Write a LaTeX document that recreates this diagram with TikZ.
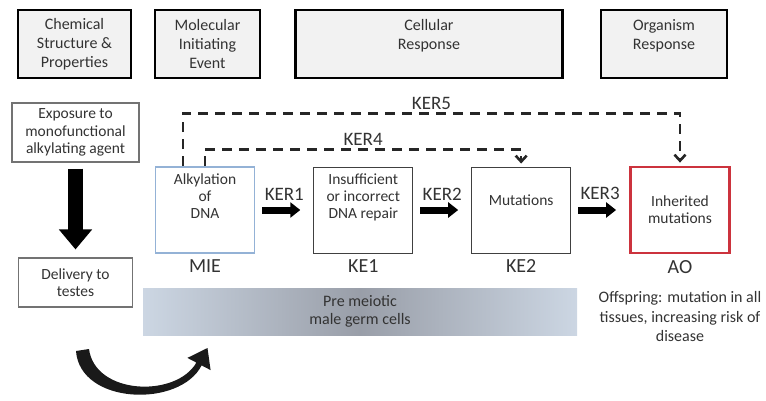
\documentclass[tikz,border=0pt]{standalone}
\usepackage{fontspec}
\setmainfont{Carlito}
\usepackage{tikz}
\usetikzlibrary{arrows.meta,calc,positioning}
\definecolor{headgray}{rgb}{0.95, 0.95, 0.95}
\definecolor{textgray}{rgb}{0.2, 0.2, 0.2}
\definecolor{mieblue}{rgb}{0.58, 0.70, 0.84}
\definecolor{aored}{rgb}{0.80, 0.20, 0.24}
\definecolor{bandlight}{rgb}{0.80, 0.84, 0.89}
\definecolor{banddark}{rgb}{0.60, 0.62, 0.66}
\tikzset{
  header/.style={
    draw=black,
    line width=2.4pt,
    fill=headgray,
    align=center,
    minimum height=68pt,
    inner sep=2pt,
    text=textgray,
    font=\fontsize{16}{19}\selectfont
  },
  prebox/.style={
    draw=black!55,
    line width=1.1pt,
    fill=white,
    align=center,
    inner sep=2pt,
    text=textgray,
    font=\fontsize{15.5}{17.5}\selectfont
  },
  event/.style={
    draw=black!75,
    line width=0.9pt,
    fill=white,
    align=center,
    minimum width=99pt,
    minimum height=86pt,
    inner sep=2pt,
    text=textgray,
    font=\fontsize{15.5}{17}\selectfont
  },
  tag/.style={
    text=textgray,
    inner sep=2pt,
    outer sep=0pt,
    font=\fontsize{20}{24}\selectfont
  },
  ker/.style={
    text=textgray,
    inner sep=2pt,
    outer sep=0pt,
    font=\fontsize{19}{22}\selectfont
  },
  kerarrow/.style={
    -{Triangle[length=10pt,width=15pt]},
    line width=7pt,
    shorten <=7pt,
    shorten >=13pt
  },
  dasharrow/.style={
    -{Straight Barb[length=6pt,width=11pt]},
    line width=2.6pt,
    dash pattern=on 10pt off 7pt,
    black!85,
    shorten >=3pt
  },
  bigarrow/.style={
    -{Triangle[length=20pt,width=32pt]},
    line width=15pt,
    shorten <=6pt,
    shorten >=8pt
  }
}
\begin{document}
\begin{tikzpicture}[x=1pt,y=-1pt,node distance=58pt]
\useasboundingbox (0,0) rectangle (766,400);
% header row
\node[header, minimum width=113pt] (h1) at (74.5,44) {Chemical\\Structure \&\\Properties};
\node[header, minimum width=105pt] (h2) at (207.5,44) {Molecular\\Initiating\\Event};
\node[header, minimum width=267pt] (h3) at (429,44) {Cellular\\Response\\\mbox{}};
\node[header, minimum width=126pt] (h4) at (664,44) {Organism\\Response\\\mbox{}};
% exposure column
\node[prebox, minimum width=127pt, minimum height=59pt] (expo) at (75.5,132.5) {Exposure to\\monofunctional\\alkylating agent};
\node[prebox, minimum width=114pt, minimum height=49pt] (deliv) at (75.5,282.5) {Delivery to\\testes};
\draw[bigarrow] (expo) -- (deliv);
% key events
\node[event, draw=mieblue, line width=1.6pt] (mie) at (205,210) {Alkylation\\of\\DNA\\[11pt]\mbox{}};
\node[event, right=of mie] (ke1) {Insufficient\\or incorrect\\DNA repair\\[11pt]\mbox{}};
\node[event, right=of ke1] (ke2) {Mutations\\[3pt]\mbox{}};
\node[event, right=of ke2, draw=aored, line width=2.8pt] (ao) {Inherited\\mutations};
\node[tag, below=4pt of mie] (miel) {MIE};
\node[tag, below=4pt of ke1] (ke1l) {KE1};
\node[tag, below=4pt of ke2] (ke2l) {KE2};
\node[tag, below=4pt of ao] (aol) {AO};
\draw[kerarrow] (mie) -- node[ker, above=8pt] (k1) {KER1} (ke1);
\draw[kerarrow] (ke1) -- node[ker, above=8pt] (k2) {KER2} (ke2);
\draw[kerarrow] (ke2) -- node[ker, above=8pt] (k3) {KER3} (ao);
% indirect relationships
\draw[dasharrow] ([xshift=-22pt]mie.north) -- ++(0,-53) -| node[ker, pos=0.25, above=2pt] (k5) {KER5} (ao.north);
\draw[dasharrow] (mie.north) -- ++(0,-17) -| node[ker, pos=0.25, above=2pt] (k4) {KER4} (ke2.north);
% cell band and outcome
\node[minimum width=434pt, minimum height=47pt, inner sep=0pt,
  left color=bandlight, right color=bandlight, middle color=banddark,
  align=center, text=textgray, font=\fontsize{16}{18}\selectfont] (band) at (360,311.5) {Pre meiotic\\male germ cells};
\node[below=14pt of aol, align=center, inner sep=2pt, text=textgray,
  font=\fontsize{16}{19.5}\selectfont] (aodesc) {Offspring: mutation in all\\tissues, increasing risk of\\disease};
% cycle arrow
\fill[black!90] (76,351) .. controls (80,405) and (180,408) .. (201.6,365.4)
  -- (210.6,370.1) -- (207.5,348) -- (187.4,357.9) -- (196.4,362.6)
  .. controls (176,398) and (95,395) .. (89,349) -- cycle;
\end{tikzpicture}
\end{document}
